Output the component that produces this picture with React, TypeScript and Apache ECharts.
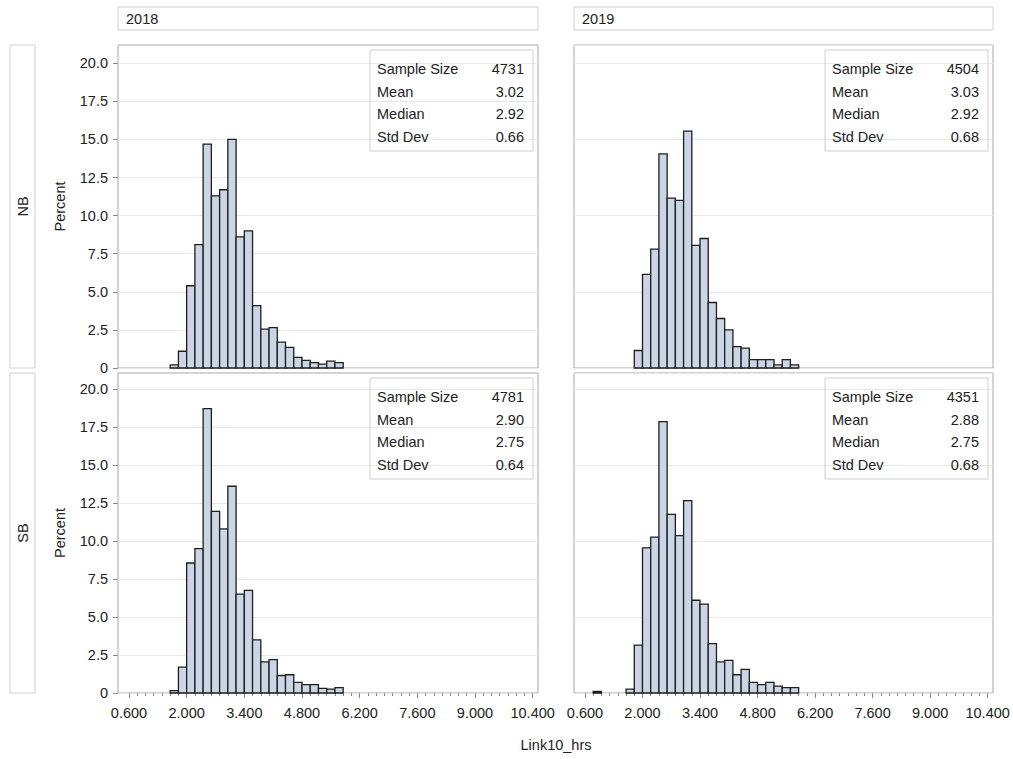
import React, { useEffect, useRef } from "react";
import * as echarts from "echarts";

// ---- data ----
const BIN_LEFTS = [0.8, 1.0, 1.2, 1.4, 1.6, 1.8, 2.0, 2.2, 2.4, 2.6, 2.8, 3.0, 3.2, 3.4, 3.6, 3.8, 4.0, 4.2, 4.4, 4.6, 4.8, 5.0, 5.2, 5.4, 5.6];
const BIN_RIGHTS = [1.0, 1.2, 1.4, 1.6, 1.8, 2.0, 2.2, 2.4, 2.6, 2.8, 3.0, 3.2, 3.4, 3.6, 3.8, 4.0, 4.2, 4.4, 4.6, 4.8, 5.0, 5.2, 5.4, 5.6, 5.8];

const NB_2018 = [0, 0, 0, 0, 0.2, 1.1, 5.4, 8.1, 14.7, 11.3, 11.7, 15.0, 8.6, 9.0, 4.1, 2.55, 2.65, 1.7, 1.35, 0.7, 0.5, 0.35, 0.25, 0.45, 0.35];
const NB_2019 = [0, 0, 0, 0, 0, 1.15, 6.15, 7.8, 14.05, 11.15, 11.0, 15.55, 8.05, 8.5, 4.3, 3.25, 2.5, 1.4, 1.3, 0.55, 0.55, 0.55, 0.2, 0.55, 0.2];
const SB_2018 = [0, 0, 0, 0, 0.15, 1.7, 8.55, 9.5, 18.7, 11.95, 10.8, 13.6, 6.5, 6.75, 3.5, 2.05, 2.2, 1.15, 1.2, 0.7, 0.55, 0.55, 0.3, 0.25, 0.35];
const SB_2019 = [0.1, 0, 0, 0, 0.25, 3.15, 9.55, 10.25, 17.85, 11.75, 10.35, 12.65, 6.1, 5.85, 3.25, 2.05, 2.15, 1.2, 1.55, 0.7, 0.55, 0.7, 0.45, 0.35, 0.35];

const YEARS = ["2018", "2019"];
const DIRECTIONS = ["NB", "SB"];
const STAT_LABELS = ["Sample Size", "Mean", "Median", "Std Dev"];
const STATS_NB_2018 = ["4731", "3.02", "2.92", "0.66"];
const STATS_NB_2019 = ["4504", "3.03", "2.92", "0.68"];
const STATS_SB_2018 = ["4781", "2.90", "2.75", "0.64"];
const STATS_SB_2019 = ["4351", "2.88", "2.75", "0.68"];

const X_TICKS = [0.6, 2.0, 3.4, 4.8, 6.2, 7.6, 9.0, 10.4];
const X_MINOR = [0.8, 1.0, 1.2, 1.4, 1.6, 1.8, 2.2, 2.4, 2.6, 2.8, 3.0, 3.2, 3.6, 3.8, 4.0, 4.2, 4.4, 4.6, 5.0, 5.2, 5.4, 5.6, 5.8, 6.0, 6.4, 6.6, 6.8, 7.0, 7.2, 7.4, 7.8, 8.0, 8.2, 8.4, 8.6, 8.8, 9.2, 9.4, 9.6, 9.8, 10.0, 10.2];
const Y_TICKS = [0, 2.5, 5.0, 7.5, 10.0, 12.5, 15.0, 17.5, 20.0];
const X_TITLE = "Link10_hrs";
const Y_TITLE = "Percent";

const PANELS = [
  { values: NB_2018, stats: STATS_NB_2018 },
  { values: NB_2019, stats: STATS_NB_2019 },
  { values: SB_2018, stats: STATS_SB_2018 },
  { values: SB_2019, stats: STATS_SB_2019 },
];

// ---- layout ----
const FONT = "'Liberation Sans', Arial, sans-serif";
const FS = 14.5;
const TXT = "#222";
const FRAME = "#A8A8A8";
const LIGHT = "#D0D0D0";
const COL_X = [118, 574];
const COL_W = [420, 419];
const ROW_Y = [45, 373];
const ROW_H = [323, 320];
const ROW_MAX = [21.2, 21.05];
const X_MIN = 0.333;
const X_MAX = 10.53;

export default function App() {
  const ref = useRef<HTMLDivElement>(null);
  useEffect(() => {
    if (!ref.current) return;
    const chart = echarts.init(ref.current, null, { renderer: "svg" });
    const grids: any[] = [];
    const xAxes: any[] = [];
    const yAxes: any[] = [];
    const series: any[] = [];
    const graphics: any[] = [];
    const font = `${FS}px ${FONT}`;

    PANELS.forEach((p, i) => {
      const r = Math.floor(i / 2);
      const c = i % 2;
      grids.push({
        left: COL_X[c], top: ROW_Y[r], width: COL_W[c], height: ROW_H[r],
        show: true, borderColor: FRAME, borderWidth: 1, backgroundColor: "transparent",
      });
      const bottom = r === 1;
      xAxes.push({
        type: "value", gridIndex: i, min: X_MIN, max: X_MAX,
        axisLine: { show: false },
        splitLine: { show: false },
        axisTick: bottom
          ? { show: true, customValues: X_TICKS, length: 5, lineStyle: { color: "#8A8A8A" } }
          : { show: false },
        axisLabel: bottom
          ? {
              show: true, customValues: X_TICKS, margin: 12,
              formatter: (v: number) => v.toFixed(3), color: TXT, fontSize: FS, fontFamily: FONT,
            }
          : { show: false },
      });
      yAxes.push({
        type: "value", gridIndex: i, min: 0, max: ROW_MAX[r],
        axisLine: { show: false },
        splitLine: { show: true, lineStyle: { color: "#E6E6E6", width: 1 } },
        axisTick: c === 0
          ? { show: true, customValues: Y_TICKS, length: 5, lineStyle: { color: "#8A8A8A" } }
          : { show: false },
        axisLabel: c === 0
          ? {
              show: true, customValues: Y_TICKS, margin: 10, color: TXT, fontSize: FS, fontFamily: FONT,
              formatter: (v: number) => (v === 0 ? "0" : v.toFixed(1)),
            }
          : { show: false },
      });
      // gridlines at the same tick values (custom)
      const data = p.values
        .map((v, k) => [BIN_LEFTS[k], BIN_RIGHTS[k], v])
        .filter((d) => d[2] > 0);
      series.push({
        type: "custom", xAxisIndex: i, yAxisIndex: i,
        encode: { x: [0, 1], y: 2 },
        data,
        renderItem: (_params: any, api: any) => {
          const a = api.coord([api.value(0), 0]);
          const b = api.coord([api.value(1), api.value(2)]);
          return {
            type: "rect",
            shape: { x: a[0], y: b[1], width: b[0] - a[0], height: a[1] - b[1] },
            style: { fill: "#CAD5E5", stroke: "#1E1E1E", lineWidth: 1.3 },
          };
        },
      });
      const bx = COL_X[c] + COL_W[c] - 168;
      const by = ROW_Y[r] + 5;
      graphics.push({
        type: "rect", shape: { x: bx, y: by, width: 163, height: 101 },
        style: { fill: "none", stroke: LIGHT, lineWidth: 1 }, z: 10,
      });
      STAT_LABELS.forEach((lab, k) => {
        const ty = by + 19 + k * 22.7;
        graphics.push({
          type: "text", x: bx + 7, y: ty, z: 11,
          style: { text: lab, font, fill: TXT, align: "left", verticalAlign: "middle" },
        });
        graphics.push({
          type: "text", x: bx + 154, y: ty, z: 11,
          style: { text: p.stats[k], font, fill: TXT, align: "right", verticalAlign: "middle" },
        });
      });
    });

    YEARS.forEach((y, c) => {
      graphics.push({
        type: "rect", shape: { x: COL_X[c], y: 7, width: COL_W[c], height: 23 },
        style: { fill: "none", stroke: LIGHT, lineWidth: 1 },
      });
      graphics.push({
        type: "text", x: COL_X[c] + 8, y: 18.5,
        style: { text: y, font, fill: TXT, align: "left", verticalAlign: "middle" },
      });
    });
    DIRECTIONS.forEach((d, r) => {
      graphics.push({
        type: "rect", shape: { x: 10, y: ROW_Y[r], width: 25, height: ROW_H[r] },
        style: { fill: "none", stroke: LIGHT, lineWidth: 1 },
      });
      const cy = ROW_Y[r] + ROW_H[r] / 2;
      graphics.push({
        type: "text", x: 22.5, y: cy, rotation: Math.PI / 2,
        style: { text: d, font, fill: TXT, align: "center", verticalAlign: "middle" },
      });
      graphics.push({
        type: "text", x: 60, y: cy, rotation: Math.PI / 2,
        style: { text: Y_TITLE, font, fill: TXT, align: "center", verticalAlign: "middle" },
      });
    });
    graphics.push({
      type: "text", x: 556, y: 745,
      style: { text: X_TITLE, font, fill: TXT, align: "center", verticalAlign: "middle" },
    });

    [2, 3].forEach((gi) => {
      xAxes.push({
        type: "value", gridIndex: gi, min: X_MIN, max: X_MAX, position: "bottom",
        axisLine: { show: false }, splitLine: { show: false },
        axisTick: { show: true, customValues: X_MINOR, length: 3, lineStyle: { color: "#8A8A8A" } },
        axisLabel: { show: false },
      });
    });

    chart.setOption({
      animation: false,
      backgroundColor: "#fff",
      grid: grids,
      xAxis: xAxes,
      yAxis: yAxes,
      series,
      graphic: graphics,
    });
    return () => chart.dispose();
  }, []);
  return (
    <div
      ref={ref}
      style={{ position: "absolute", left: 0, top: 0, width: 1013, height: 759 }}
    />
  );
}
